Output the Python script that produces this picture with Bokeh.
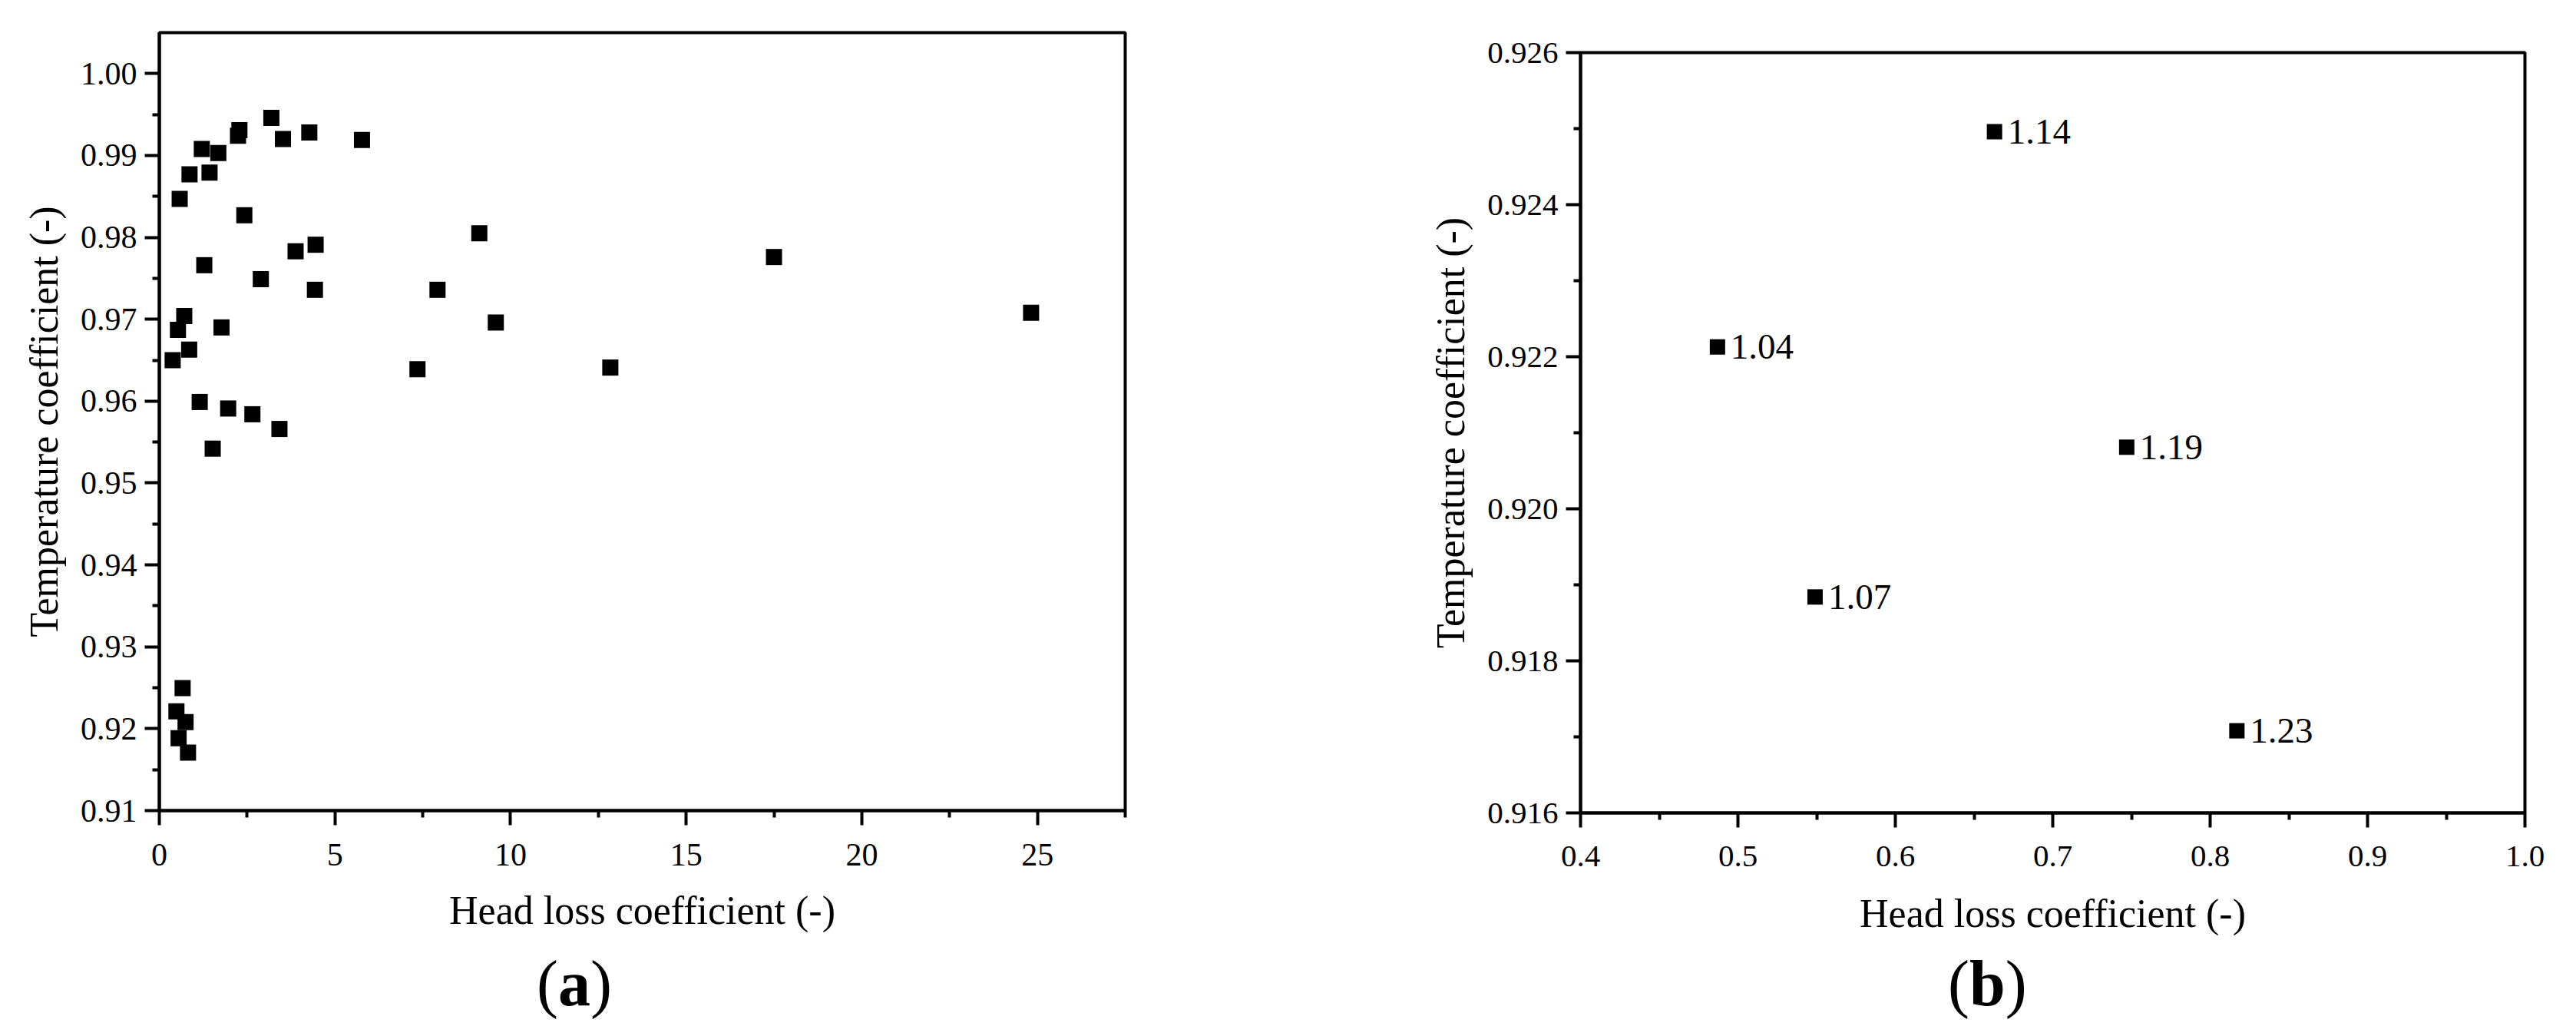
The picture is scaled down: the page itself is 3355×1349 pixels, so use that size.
from bokeh.plotting import figure
from bokeh.layouts import row, column
from bokeh.models import FixedTicker, PrintfTickFormatter, ColumnDataSource, Div
from bokeh.embed import file_html
from bokeh.resources import INLINE
from bokeh.core.properties import value

FONT = "Liberation Serif"

# ---------------- data ----------------
# panel (a): all cases
head_loss_a = [3.19, 2.28, 2.24, 3.52, 4.27, 5.77, 1.21, 1.68, 0.86, 1.43,
               0.58, 2.42, 9.11, 3.88, 4.45, 17.50, 1.28, 2.89, 4.43, 7.92,
               9.58, 0.71, 0.53, 1.77, 0.85, 0.38, 7.35, 12.84, 24.82, 1.15,
               1.96, 2.65, 3.42, 1.52]
temp_coef_a = [0.9946, 0.9931, 0.9924, 0.9920, 0.9928, 0.9919, 0.9908, 0.9903, 0.9877, 0.9879,
               0.9847, 0.9827, 0.9805, 0.9783, 0.9791, 0.9776, 0.9766, 0.9749, 0.9736, 0.9736,
               0.9696, 0.9704, 0.9687, 0.9690, 0.9663, 0.9650, 0.9639, 0.9641, 0.9708, 0.9599,
               0.9591, 0.9584, 0.9566, 0.9542]

# panel (b): zoomed cluster with labels
head_loss_b = [0.487, 0.549, 0.663, 0.747, 0.817]
temp_coef_b = [0.92213, 0.91884, 0.92496, 0.92081, 0.91708]
labels_b = ["1.04", "1.07", "1.14", "1.19", "1.23"]

xticks_a = [0, 5, 10, 15, 20, 25]
xminor_a = [2.5, 7.5, 12.5, 17.5, 22.5, 27.5]
yticks_a = [0.91, 0.92, 0.93, 0.94, 0.95, 0.96, 0.97, 0.98, 0.99, 1.00]
yminor_a = [0.915, 0.925, 0.935, 0.945, 0.955, 0.965, 0.975, 0.985, 0.995]

xticks_b = [0.4, 0.5, 0.6, 0.7, 0.8, 0.9, 1.0]
xminor_b = [0.45, 0.55, 0.65, 0.75, 0.85, 0.95]
yticks_b = [0.916, 0.918, 0.920, 0.922, 0.924, 0.926]
yminor_b = [0.917, 0.919, 0.921, 0.923, 0.925]

XLABEL = "Head loss coefficient (-)"
YLABEL = "Temperature coefficient (-)"


def style(p, xt, xm, yt, ym, xfmt, yfmt, tick_fs, xstand, ystand):
    p.background_fill_color = "white"
    p.border_fill_color = "white"
    p.outline_line_color = "black"
    p.outline_line_width = 4
    p.xgrid.visible = False
    p.ygrid.visible = False
    p.xaxis.ticker = FixedTicker(ticks=xt, minor_ticks=xm)
    p.yaxis.ticker = FixedTicker(ticks=yt, minor_ticks=ym)
    p.xaxis.formatter = PrintfTickFormatter(format=xfmt)
    p.yaxis.formatter = PrintfTickFormatter(format=yfmt)
    for ax in (p.xaxis, p.yaxis):
        ax.axis_line_width = 4
        ax.axis_line_color = "black"
        ax.major_tick_line_width = 4
        ax.minor_tick_line_width = 4
        ax.major_tick_line_color = "black"
        ax.minor_tick_line_color = "black"
        ax.major_tick_in = 0
        ax.major_tick_out = 19
        ax.minor_tick_in = 0
        ax.minor_tick_out = 9
        ax.major_label_text_font = FONT
        ax.major_label_text_font_size = tick_fs
        ax.major_label_text_color = "black"
        ax.axis_label_text_font = FONT
        ax.axis_label_text_font_size = "52px"
        ax.axis_label_text_font_style = "normal"
        ax.axis_label_text_color = "black"
    p.xaxis.major_label_standoff = 24
    p.yaxis.major_label_standoff = 10
    p.xaxis.axis_label_standoff = xstand
    p.yaxis.axis_label_standoff = ystand


def tag_div(letter, width, pad_left):
    return Div(text="(<b>%s</b>)" % letter, width=width, height=TAG_H,
               styles={"font-family": FONT, "font-size": "84px", "line-height": "0.8",
                       "color": "black", "text-align": "left",
                       "padding-left": "%dpx" % pad_left, "margin": "0px"})


H = 1247
TAG_H = 90
WA = 1800
WB = 1547

# ---------------- panel (a) ----------------
pa = figure(width=WA, height=H, x_range=(0, 27.5), y_range=(0.91, 1.005),
            output_backend="svg", toolbar_location=None,
            min_border_left=207, min_border_right=WA - 207 - 1258, min_border_top=42,
            min_border_bottom=H - 42 - 1013,
            x_axis_label=XLABEL, y_axis_label=YLABEL)
style(pa, xticks_a, xminor_a, yticks_a, yminor_a, "%d", "%.2f", "42px", 27, 16)
pa.scatter(head_loss_a + head_loss_b, temp_coef_a + temp_coef_b, marker="square",
           size=21, fill_color="black", line_color="black", line_width=0)
da = tag_div("a", 900, 699)

# ---------------- panel (b) ----------------
pb = figure(width=WB, height=H, x_range=(0.4, 1.0), y_range=(0.916, 0.926),
            output_backend="svg", toolbar_location=None,
            min_border_left=258, min_border_right=WB - 258 - 1230, min_border_top=68,
            min_border_bottom=H - 68 - 990,
            x_axis_label=XLABEL, y_axis_label=YLABEL)
style(pb, xticks_b, xminor_b, yticks_b, yminor_b, "%.1f", "%.3f", "41px", 30, 16)
src_b = ColumnDataSource(dict(x=head_loss_b, y=temp_coef_b, t=labels_b))
pb.scatter("x", "y", source=src_b, marker="square", size=20,
           fill_color="black", line_color="black", line_width=0)
pb.text("x", "y", text="t", source=src_b, x_offset=17, text_align="left",
        text_baseline="middle", text_font=value(FONT), text_font_size="47px",
        text_color="black")
db = tag_div("b", 800, 737)

layout = row(column(pa, da), column(pb, db))
open("out.html", "w").write(file_html(layout, INLINE))
